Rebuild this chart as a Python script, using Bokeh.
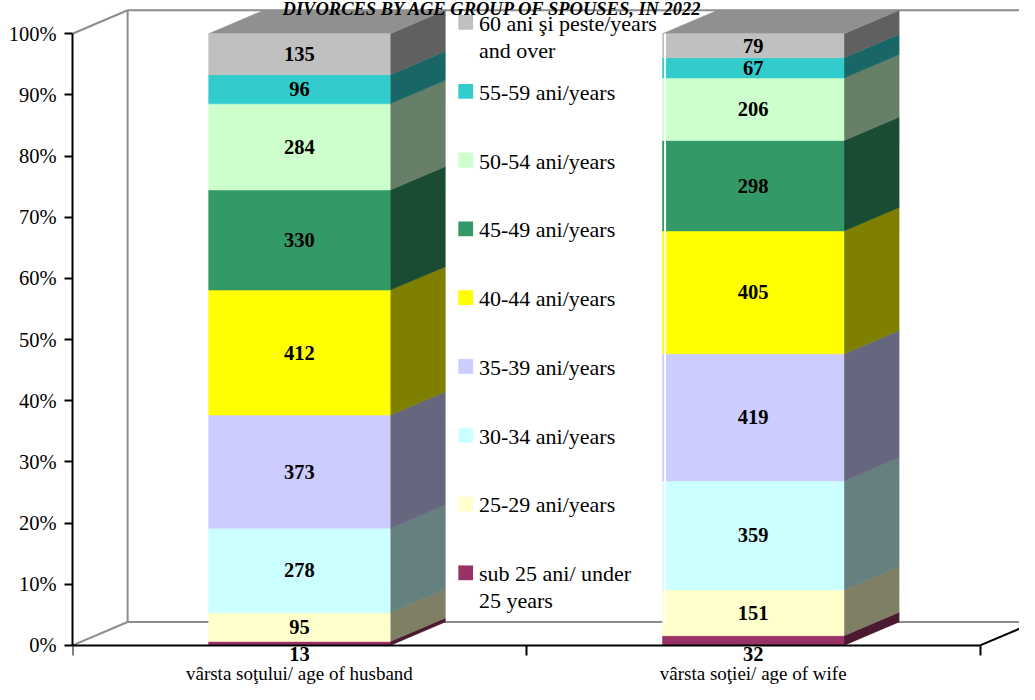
from bokeh.plotting import figure
from bokeh.models import (Range1d, LinearAxis, FixedTicker, NumeralTickFormatter,
                          ColumnDataSource)
from bokeh.core.properties import value
from bokeh.embed import file_html
from bokeh.resources import INLINE

# ---------------- data ----------------
title = "DIVORCES BY AGE GROUP OF SPOUSES, IN 2022"
categories = ["vârsta soţului/ age of husband", "vârsta soţiei/ age of wife"]
age_groups = ["sub 25 ani/ under\n25 years", "25-29 ani/years", "30-34 ani/years",
              "35-39 ani/years", "40-44 ani/years", "45-49 ani/years",
              "50-54 ani/years", "55-59 ani/years", "60 ani şi peste/years\nand over"]
husband = [13, 95, 278, 373, 412, 330, 284, 96, 135]
wife = [32, 151, 359, 419, 405, 298, 206, 67, 79]
y_ticks = [0.0, 0.1, 0.2, 0.3, 0.4, 0.5, 0.6, 0.7, 0.8, 0.9, 1.0]
colors = ["#993366", "#FFFFCC", "#CCFFFF", "#CCCCFF", "#FFFF00",
          "#339966", "#CCFFCC", "#33CCCC", "#C0C0C0"]

# ---------------- layout constants ----------------
FIG_W, FIG_H = 1019, 684
SX, SY = FIG_W / 1035.0, FIG_H / 700.0     # reference px -> figure px
LEFT = 72                                  # frame left  (x = 0)
Y0_PX = 660 * SY                           # figure px (from top) of y = 0
UX = (995 * SX - LEFT) / 2.0               # px per category unit
UY = Y0_PX - 34 * SY                       # px per 100 %
X_END = (FIG_W - LEFT) / UX
Y_START = -(FIG_H - Y0_PX) / UY
Y_END = Y0_PX / UY
DX = 56 / 461.0                            # 3-D depth in data units
DY = 24 / 626.0
BAR_HALF = 0.2
FONT = "Liberation Serif"


def fx(ref_x):
    return (ref_x * SX - LEFT) / UX


def fy(ref_y):
    return (Y0_PX - ref_y * SY) / UY


def shade(hexcol, f):
    h = hexcol.lstrip("#")
    r, g, b = (int(h[i:i + 2], 16) for i in (0, 2, 4))
    return "#%02x%02x%02x" % (int(r * f), int(g * f), int(b * f))


p = figure(width=FIG_W, height=FIG_H, output_backend="svg", toolbar_location=None,
           x_range=Range1d(0, X_END), y_range=Range1d(Y_START, Y_END),
           x_axis_type=None, y_axis_type=None,
           min_border_left=LEFT, min_border_right=0, min_border_top=0,
           min_border_bottom=0)
p.outline_line_color = None
p.background_fill_color = "white"
p.border_fill_color = "white"

# ---------------- back wall / floor ----------------
wall_gray = "#8c8c8c"
p.multi_line(xs=[[0, DX], [0, DX], [DX, DX], [DX, X_END + 1], [DX, X_END + 1]],
             ys=[[0, DY], [1, 1 + DY], [DY, 1 + DY], [1 + DY, 1 + DY], [DY, DY]],
             line_color=wall_gray, line_width=2)
p.line(x=[2, 2 + DX], y=[0, DY], line_color="black", line_width=2)

# ---------------- 3-D stacked bars ----------------
front = dict(left=[], right=[], bottom=[], top=[], color=[])
side = dict(xs=[], ys=[], color=[])
inside = dict(x=[], y=[], text=[])
below = dict(x=[], y=[], text=[])
for ci, series in enumerate([husband, wife]):
    c = ci + 0.5
    total = float(sum(series))
    l, r = c - BAR_HALF, c + BAR_HALF
    cum = 0.0
    for i, v in enumerate(series):
        b = cum / total
        cum += v
        t = cum / total
        front["left"].append(l); front["right"].append(r)
        front["bottom"].append(b); front["top"].append(t)
        front["color"].append(colors[i])
        side["xs"].append([r, r, r + DX, r + DX])
        side["ys"].append([b, t, t + DY, b + DY])
        side["color"].append(shade(colors[i], 0.5))
        if t - b < 0.02:
            below["x"].append(c); below["y"].append(fy(669)); below["text"].append(str(v))
        else:
            inside["x"].append(c); inside["y"].append((b + t) / 2); inside["text"].append(str(v))
    # top face
    side["xs"].append([l, r, r + DX, l + DX])
    side["ys"].append([1, 1, 1 + DY, 1 + DY])
    side["color"].append(shade(colors[-1], 0.75))

p.patches(xs="xs", ys="ys", fill_color="color", line_color="color", line_width=0.5,
          source=ColumnDataSource(side))
p.quad(left="left", right="right", bottom="bottom", top="top", fill_color="color",
       line_color="color", line_width=0.5, source=ColumnDataSource(front))

for src in (inside, below):
    p.text(x="x", y="y", text="text", source=ColumnDataSource(src),
           text_align="center", text_baseline="middle", text_color="black",
           text_font=value(FONT), text_font_style="bold", text_font_size="20.5px")

p.text(x=[0.5, 1.5], y=[fy(689), fy(689)], text=categories,
       text_align="center", text_baseline="alphabetic", text_color="black",
       text_font=value(FONT), text_font_size="19px")

# ---------------- legend (manual, Excel style) ----------------
p.segment(x0=[fx(675)], y0=[fy(34)], x1=[fx(675)], y1=[fy(636)],
          line_color="white", line_width=2)
leg_items = list(zip(age_groups, colors))[::-1]
mk = dict(x=[], y=[], color=[])
lt = dict(x=[], y=[], text=[])
for k, (lab, col) in enumerate(leg_items):
    cy = 22.5 + 70.4 * k
    mk["x"].append(fx(472.5)); mk["y"].append(fy(cy)); mk["color"].append(col)
    for j, line in enumerate(lab.split("\n")):
        lt["x"].append(fx(486)); lt["y"].append(fy(cy + 1 + 27.5 * j)); lt["text"].append(line)
p.scatter(x="x", y="y", marker="square", size=15 * SX, fill_color="color", line_color=None,
          source=ColumnDataSource(mk))
p.text(x="x", y="y", text="text", source=ColumnDataSource(lt), text_align="left",
       text_baseline="middle", text_color="black", text_font=value(FONT),
       text_font_size="22px")

# ---------------- title (clipped at top as in the reference) ----------------
p.text(x=[fx(500)], y=[fy(9)], text=[title], text_align="center",
       text_baseline="alphabetic", text_color="black", text_font=value(FONT),
       text_font_style="bold italic", text_font_size="18.5px")

# ---------------- axes ----------------
yaxis = LinearAxis(ticker=FixedTicker(ticks=y_ticks), formatter=NumeralTickFormatter(format="0%"),
                   bounds=(0, 1), axis_line_color="black", axis_line_width=2,
                   major_tick_line_color="black", major_tick_line_width=2,
                   major_tick_out=8, major_tick_in=0, minor_tick_out=0, minor_tick_in=0,
                   major_label_standoff=8, major_label_text_font=FONT,
                   major_label_text_font_size="20.5px", major_label_text_color="black")
p.add_layout(yaxis, "left")

# category axis drawn at y = 0 inside the frame, ticks pointing down
xaxis = LinearAxis(ticker=FixedTicker(ticks=[0, 1, 2]), bounds=(0, 2), fixed_location=0,
                   axis_line_color="black", axis_line_width=2,
                   major_tick_line_color="black", major_tick_line_width=2,
                   major_tick_out=0, major_tick_in=10, minor_tick_out=0, minor_tick_in=0,
                   major_label_standoff=0, major_label_text_font_size="0px",
                   major_label_overrides={0: "", 1: "", 2: ""})
p.add_layout(xaxis, "above")

open("out.html", "w").write(file_html(p, INLINE))
